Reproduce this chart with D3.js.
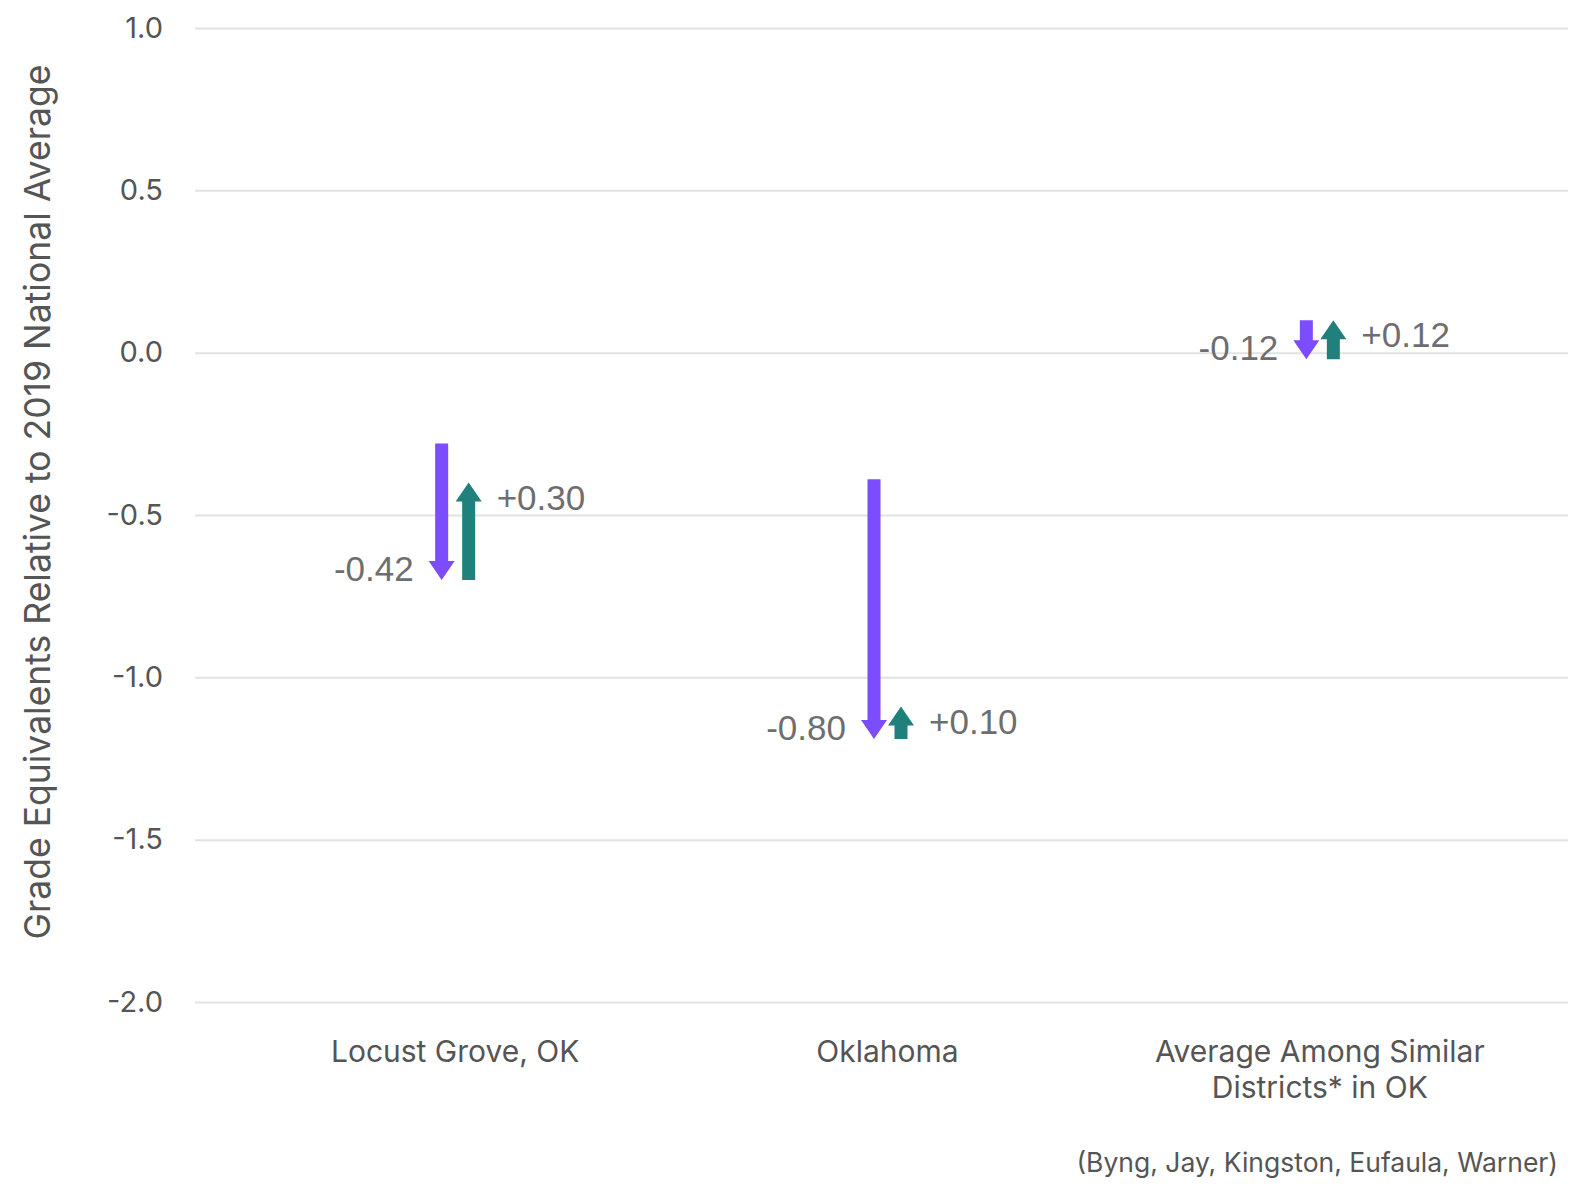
<!DOCTYPE html>
<html>
<head>
<meta charset="utf-8">
<script src="https://cdn.jsdelivr.net/npm/d3@7"></script>
<style>
  body { margin: 0; background: #fff; }
  svg { display: block; }
</style>
</head>
<body>
<svg id="chart"></svg>
<script>
var width = 1576, height = 1194;

// values
var categories = ["Locust Grove, OK", "Oklahoma", "Average Among Similar Districts* in OK"];
var categoryLines = [["Locust Grove, OK"], ["Oklahoma"], ["Average Among Similar", "Districts* in OK"]];
var start2019 = [-0.28, -0.39, 0.10];
var drop = [-0.42, -0.80, -0.12];
var recovery = [0.30, 0.10, 0.12];
var yTicks = [1.0, 0.5, 0.0, -0.5, -1.0, -1.5, -2.0];

var dropColor = "#7c4dff", gainColor = "#1f807c";

// plain hyphen for negatives, like the original
function fmt(v, spec) { return d3.format(spec)(v).replace("\u2212", "-"); }

var svg = d3.select("#chart").attr("width", width).attr("height", height);

var x = d3.scaleBand()
    .domain(categories)
    .range([239, 1536]);

var y = d3.scaleLinear()
    .domain([-2, 1])
    .range([1002, 28]);

// gridlines + tick labels
var yAxis = svg.append("g")
    .attr("transform", "translate(195,0)")
    .call(d3.axisLeft(y).tickValues(yTicks).tickSize(-(1568 - 195)).tickPadding(32)
        .tickFormat(function (d) { return fmt(d, ".1f"); }));
yAxis.select(".domain").remove();
yAxis.selectAll(".tick line").attr("stroke", "#e2e2e2").attr("stroke-width", 2);
yAxis.selectAll(".tick text")
    .attr("fill", "#555")
    .style("font-family", "Inter, 'Noto Sans', sans-serif")
    .style("font-size", "29px");

svg.append("text")
    .attr("transform", "translate(50," + 502 + ") rotate(-90)")
    .attr("text-anchor", "middle")
    .attr("fill", "#555")
    .style("font-family", "Inter, 'Noto Sans', sans-serif")
    .style("font-size", "35.5px")
    .text("Grade Equivalents Relative to 2019 National Average");

// category labels
var cat = svg.append("g").selectAll("text")
    .data(categories)
    .join("text")
    .attr("x", function (d) { return x(d) + x.bandwidth() / 2; })
    .attr("y", 1062)
    .attr("text-anchor", "middle")
    .attr("fill", "#555")
    .style("font-family", "Inter, 'Noto Sans', sans-serif")
    .style("font-size", "30px");
cat.each(function (d, i) {
    var t = d3.select(this);
    categoryLines[i].forEach(function (line, j) {
        t.append("tspan")
            .attr("x", x(d) + x.bandwidth() / 2)
            .attr("dy", j == 0 ? 0 : 36)
            .text(line);
    });
});

svg.append("text")
    .attr("x", 1558)
    .attr("y", 1172)
    .attr("text-anchor", "end")
    .attr("fill", "#555")
    .style("font-family", "Inter, 'Noto Sans', sans-serif")
    .style("font-size", "26.5px")
    .text("(Byng, Jay, Kingston, Eufaula, Warner)");

// arrow polygon: shaft from y0 to tip y1
var shaftW = 13, headW = 26, headL = 19;
function arrow(cx, y0, y1) {
    var dir = y1 > y0 ? 1 : -1;
    var yb = y1 - dir * headL;
    return "M" + (cx - shaftW / 2) + "," + y0 +
        "L" + (cx + shaftW / 2) + "," + y0 +
        "L" + (cx + shaftW / 2) + "," + yb +
        "L" + (cx + headW / 2) + "," + yb +
        "L" + cx + "," + y1 +
        "L" + (cx - headW / 2) + "," + yb +
        "L" + (cx - shaftW / 2) + "," + yb + "Z";
}

var rows = categories.map(function (c, i) {
    return { cat: c, start: start2019[i], drop: drop[i], gain: recovery[i] };
});
var off = 13.5;

var g = svg.append("g");
g.selectAll("path.drop")
    .data(rows)
    .join("path")
    .attr("class", "drop")
    .attr("fill", dropColor)
    .attr("d", function (d) {
        var cx = x(d.cat) + x.bandwidth() / 2 - off;
        return arrow(cx, y(d.start), y(d.start + d.drop));
    });

g.selectAll("path.gain")
    .data(rows)
    .join("path")
    .attr("class", "gain")
    .attr("fill", gainColor)
    .attr("d", function (d) {
        var cx = x(d.cat) + x.bandwidth() / 2 + off;
        var low = d.start + d.drop;
        return arrow(cx, y(low), y(low + d.gain));
    });

// value labels
g.selectAll("text.dropLab")
    .data(rows)
    .join("text")
    .attr("class", "dropLab")
    .attr("x", function (d) { return x(d.cat) + x.bandwidth() / 2 - off - 28; })
    .attr("y", function (d) { return y(d.start + d.drop) + 1; })
    .attr("text-anchor", "end")
    .attr("fill", "#6e6e6e")
    .style("font-family", "'Liberation Sans', Arial, sans-serif")
    .style("font-size", "35px")
    .text(function (d) { return fmt(d.drop, ".2f"); });

g.selectAll("text.gainLab")
    .data(rows)
    .join("text")
    .attr("class", "gainLab")
    .attr("x", function (d) { return x(d.cat) + x.bandwidth() / 2 + off + 28; })
    .attr("y", function (d) { return y(d.start + d.drop + d.gain) + 27; })
    .attr("fill", "#6e6e6e")
    .style("font-family", "'Liberation Sans', Arial, sans-serif")
    .style("font-size", "35px")
    .text(function (d) { return "+" + fmt(d.gain, ".2f"); });
</script>
</body>
</html>
